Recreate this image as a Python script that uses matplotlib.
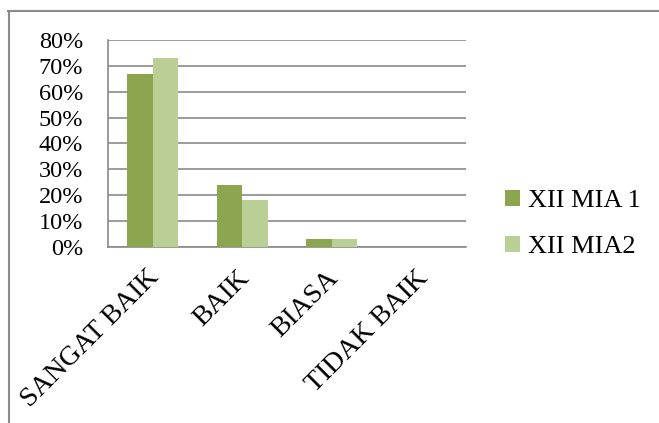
import numpy as np
import matplotlib.pyplot as plt
from matplotlib.lines import Line2D
from matplotlib.transforms import ScaledTranslation

categories = ['SANGAT BAIK', 'BAIK', 'BIASA', 'TIDAK BAIK']
mia1 = [67, 24, 3, 0]
mia2 = [73, 18, 3, 0]
series_names = ['XII MIA 1', 'XII MIA2']
yticks = [0, 10, 20, 30, 40, 50, 60, 70, 80]

plt.rcParams['font.family'] = ['Liberation Serif', 'DejaVu Serif']

fig = plt.figure(figsize=(6.59, 4.23), dpi=100)
ax = fig.add_axes([0.1639, 0.4161, 0.5432, 0.4894])

x = np.arange(len(categories))
w = 0.285
ax.bar(x - w / 2, mia1, w, color='#8BA64F', label=series_names[0], zorder=3)
ax.bar(x + w / 2, mia2, w, color='#B9CF96', label=series_names[1], zorder=3)

ax.set_xlim(-0.5, len(categories) - 0.5)
ax.set_ylim(0, 80)
ax.set_yticks(yticks)
ax.set_yticklabels([f'{v}%' for v in yticks], fontsize=17.5)
ax.yaxis.grid(True, color='#8a8a8a', linewidth=1.2, zorder=0)
ax.tick_params(axis='y', length=0, pad=18)
ax.tick_params(axis='x', length=0, pad=11)
ax.set_xticks(x)
ax.set_xticklabels(categories, rotation=45, ha='right', va='top',
                   rotation_mode='anchor', fontsize=20)
# nudge the slanted labels a bit left/down like the original
shift = ScaledTranslation(-6 / 100, -3 / 100, fig.dpi_scale_trans)
for lbl in ax.get_xticklabels():
    lbl.set_transform(lbl.get_transform() + shift)

for s in ['top', 'right']:
    ax.spines[s].set_visible(False)
for s in ['left', 'bottom']:
    ax.spines[s].set_color('#8a8a8a')
    ax.spines[s].set_linewidth(1.2)

leg = fig.legend(loc='center left', bbox_to_anchor=(0.731, 0.47),
                 frameon=False, fontsize=19, handlelength=0.55,
                 handleheight=0.55, handletextpad=0.3, labelspacing=0.9)

# outer chart frame (top and left edges only visible)
fig.add_artist(Line2D([8 / 659, 658 / 659], [1 - 11 / 423, 1 - 11 / 423],
                      color='#8a8a8a', linewidth=1.5, transform=fig.transFigure))
fig.add_artist(Line2D([8.5 / 659, 8.5 / 659], [0, 1 - 11 / 423],
                      color='#8a8a8a', linewidth=1.5, transform=fig.transFigure))

fig.savefig('out.png', dpi=100)
